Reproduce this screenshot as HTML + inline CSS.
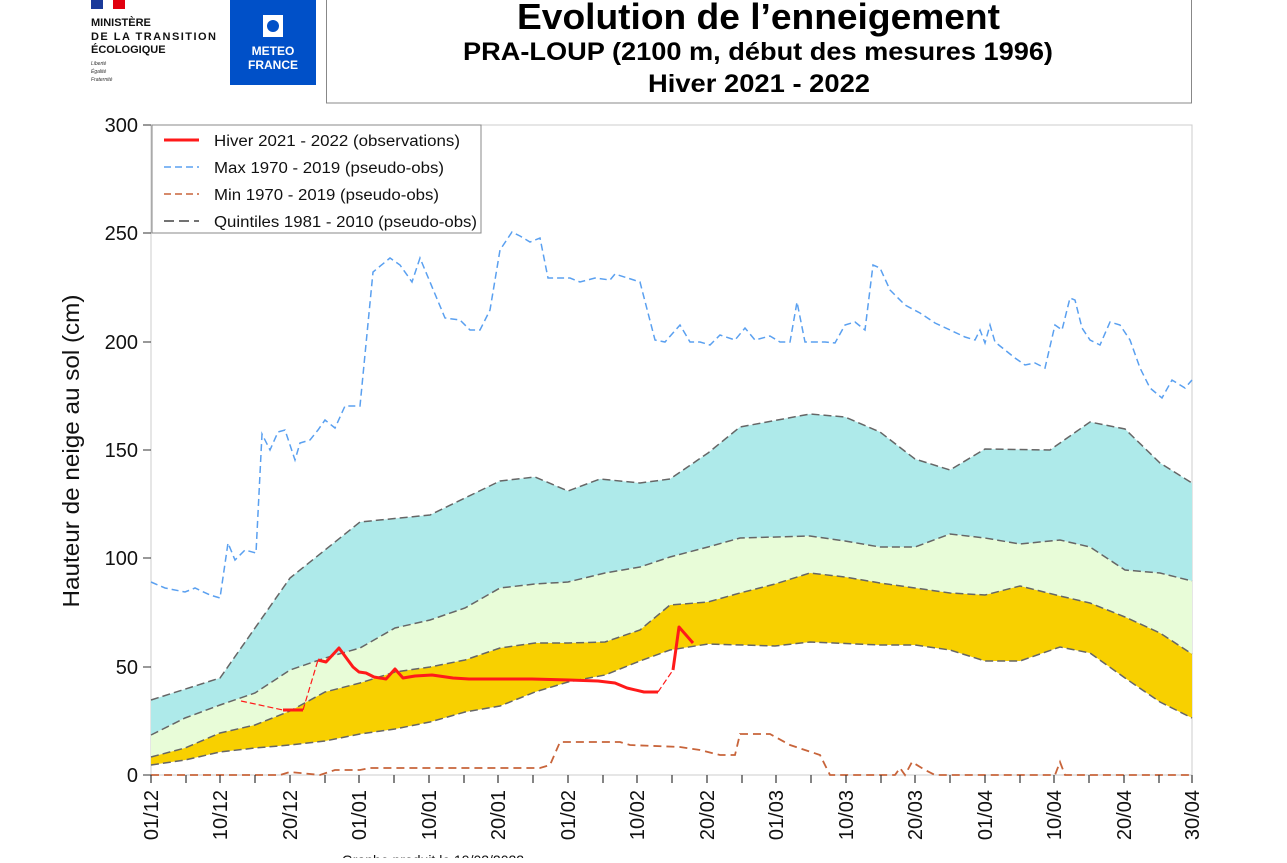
<!DOCTYPE html>
<html><head><meta charset="utf-8"><style>
body{margin:0;background:#fff;width:1287px;height:858px;overflow:hidden;font-family:"Liberation Sans",sans-serif}
</style></head><body>
<svg width="1287" height="858" viewBox="0 0 1287 858" xmlns="http://www.w3.org/2000/svg" font-family="Liberation Sans, sans-serif">
<rect x="91" y="0" width="12" height="9" fill="#1a3a9a"/><rect x="103" y="0" width="10" height="9" fill="#fff"/><rect x="113" y="0" width="12" height="9" fill="#e1000f"/>
<text x="91" y="26" font-size="11" font-weight="bold" fill="#111">MINISTÈRE</text>
<text x="91" y="40" font-size="11" font-weight="bold" fill="#111" textLength="125">DE LA TRANSITION</text>
<text x="91" y="53" font-size="11" font-weight="bold" fill="#111">ÉCOLOGIQUE</text>
<text x="91" y="65" font-size="5" font-style="italic" fill="#333">Liberté</text>
<text x="91" y="73" font-size="5" font-style="italic" fill="#333">Égalité</text>
<text x="91" y="81" font-size="5" font-style="italic" fill="#333">Fraternité</text>
<rect x="230" y="0" width="86" height="85" fill="#0050c8"/>
<rect x="263" y="15" width="20" height="22" fill="#fff"/><circle cx="273" cy="26" r="6" fill="#0050c8"/>
<text x="273" y="55" font-size="12" font-weight="bold" fill="#fff" text-anchor="middle">METEO</text>
<text x="273" y="69" font-size="12" font-weight="bold" fill="#fff" text-anchor="middle">FRANCE</text>
<rect x="326.5" y="-2" width="865" height="105" fill="#fff" stroke="#888" stroke-width="1"/>
<text x="517" y="29" font-size="36" font-weight="bold" fill="#000" textLength="483" lengthAdjust="spacingAndGlyphs">Evolution de l’enneigement</text>
<text x="463" y="60" font-size="25" font-weight="bold" fill="#000" textLength="590" lengthAdjust="spacingAndGlyphs">PRA-LOUP (2100 m, début des mesures 1996)</text>
<text x="648" y="92" font-size="25" font-weight="bold" fill="#000" textLength="222" lengthAdjust="spacingAndGlyphs">Hiver 2021 - 2022</text>
<rect x="151" y="125" width="1041" height="650" fill="#fff" stroke="#ccc" stroke-width="1"/>
<polygon fill="#aeeaea" points="151,700 220,678 290,578 360,522 430,515 500,481 535,477 568,491 600,479 640,483 670,479 708,453 740,427 810,414 845,417 880,432 915,459 950,470 985,449 1050,450 1090,422 1125,429 1160,463 1192,483 1192,581 1160,573 1125,570 1090,547 1060,540 1020,544 985,538 950,534 915,547 880,547 845,541 810,536 740,538 708,547 670,557 640,567 605,573 568,582 535,584 500,588 465,608 430,620 395,628 360,648 325,658 290,670 255,693 220,705 185,718 151,735"/>
<polygon fill="#e8fcd8" points="151,735 185,718 220,705 255,693 290,670 325,658 360,648 395,628 430,620 465,608 500,588 535,584 568,582 605,573 640,567 670,557 708,547 740,538 810,536 845,541 880,547 915,547 950,534 985,538 1020,544 1060,540 1090,547 1125,570 1160,573 1192,581 1192,654 1160,633 1125,617 1090,603 1060,596 1020,586 985,595 950,593 915,588 880,583 845,577 810,573 775,584 740,593 708,602 670,605 640,630 605,642 568,643 535,643 500,648 465,660 430,667 395,672 360,683 325,692 290,711 255,725 220,733 185,748 151,757"/>
<polygon fill="#f8d000" points="151,757 185,748 220,733 255,725 290,711 325,692 360,683 395,672 430,667 465,660 500,648 535,643 568,643 605,642 640,630 670,605 708,602 740,593 775,584 810,573 845,577 880,583 915,588 950,593 985,595 1020,586 1060,596 1090,603 1125,617 1160,633 1192,654 1192,718 1160,702 1125,678 1090,653 1060,647 1020,661 985,661 950,650 915,645 880,645 810,642 775,646 708,644 670,650 640,661 605,675 568,682 535,692 500,706 465,712 430,722 395,729 360,734 325,741 290,745 255,748 220,752 185,760 151,765"/>
<g fill="none" stroke="#666" stroke-width="1.5" stroke-dasharray="8,4">
<polyline points="151,700 220,678 290,578 360,522 430,515 500,481 535,477 568,491 600,479 640,483 670,479 708,453 740,427 810,414 845,417 880,432 915,459 950,470 985,449 1050,450 1090,422 1125,429 1160,463 1192,483"/>
<polyline points="151,735 185,718 220,705 255,693 290,670 325,658 360,648 395,628 430,620 465,608 500,588 535,584 568,582 605,573 640,567 670,557 708,547 740,538 810,536 845,541 880,547 915,547 950,534 985,538 1020,544 1060,540 1090,547 1125,570 1160,573 1192,581"/>
<polyline points="151,757 185,748 220,733 255,725 290,711 325,692 360,683 395,672 430,667 465,660 500,648 535,643 568,643 605,642 640,630 670,605 708,602 740,593 775,584 810,573 845,577 880,583 915,588 950,593 985,595 1020,586 1060,596 1090,603 1125,617 1160,633 1192,654"/>
<polyline points="151,765 185,760 220,752 255,748 290,745 325,741 360,734 395,729 430,722 465,712 500,706 535,692 568,682 605,675 640,661 670,650 708,644 775,646 810,642 880,645 915,645 950,650 985,661 1020,661 1060,647 1090,653 1125,678 1160,702 1192,718"/>
</g>
<polyline fill="none" stroke="#5aa0f0" stroke-width="1.5" stroke-dasharray="7,4" points="151,582 165,588 185,592 195,588 210,595 220,598 228,543 235,560 245,550 256,553 262,434 270,450 278,432 285,430 295,460 300,443 310,440 318,430 325,420 335,428 345,406 360,406 373,272 390,258 400,265 412,282 420,258 430,282 445,318 460,320 470,330 480,330 490,310 500,250 512,232 520,236 530,242 540,238 548,278 570,278 580,282 595,278 610,280 615,274 640,282 655,340 665,342 680,325 690,342 700,342 710,345 720,335 735,340 745,328 755,340 770,336 780,342 790,342 797,302 805,342 825,342 835,343 845,325 855,322 865,330 873,265 880,268 890,290 905,305 920,313 935,323 950,330 965,337 975,340 980,330 985,343 990,325 995,342 1005,350 1015,358 1025,365 1035,363 1045,368 1055,325 1062,330 1070,298 1075,300 1082,328 1090,340 1100,345 1110,322 1120,325 1130,340 1140,368 1150,388 1162,398 1172,380 1185,388 1192,380"/>
<polyline fill="none" stroke="#c8643a" stroke-width="1.8" stroke-dasharray="8,5" points="151,775 280,775 290,772 320,775 335,770 360,770 370,768 540,768 550,765 560,742 620,742 630,745 680,747 700,750 720,755 735,755 740,734 770,734 790,745 820,755 830,775 895,775 900,768 905,775 912,762 925,770 935,775 1055,775 1060,762 1065,775 1192,775"/>
<g fill="none" stroke="#ff1a1a" stroke-linejoin="round">
<polyline stroke-width="1.2" stroke-dasharray="6,3" points="241,701 283,710"/>
<polyline stroke-width="3" points="283,710 303,710"/>
<polyline stroke-width="1.2" stroke-dasharray="6,3" points="303,710 318,660"/>
<polyline stroke-width="3" points="318,660 326,662 339,648 353,667 359,672 366,673 374,677 386,679 395,669 403,678 415,676 432,675 453,678 469,679 532,679 569,680 598,681 615,683 627,688 644,692 658,692"/>
<polyline stroke-width="1.2" stroke-dasharray="6,3" points="658,692 673,670"/>
<polyline stroke-width="3" points="673,670 679,627 693,643"/>
</g>
<g stroke="#333" stroke-width="1"><line x1="143" y1="125" x2="151" y2="125"/><line x1="143" y1="233" x2="151" y2="233"/><line x1="143" y1="342" x2="151" y2="342"/><line x1="143" y1="450" x2="151" y2="450"/><line x1="143" y1="558" x2="151" y2="558"/><line x1="143" y1="667" x2="151" y2="667"/><line x1="143" y1="775" x2="151" y2="775"/></g>
<g font-size="20" fill="#111" text-anchor="end"><text x="138" y="132">300</text><text x="138" y="240">250</text><text x="138" y="349">200</text><text x="138" y="457">150</text><text x="138" y="565">100</text><text x="138" y="674">50</text><text x="138" y="782">0</text></g>
<text transform="translate(79,451) rotate(-90)" font-size="23" fill="#111" text-anchor="middle" textLength="313" lengthAdjust="spacingAndGlyphs">Hauteur de neige au sol (cm)</text>
<g stroke="#333" stroke-width="1.2">
<line x1="151" y1="775" x2="151" y2="783"/><line x1="186" y1="775" x2="186" y2="783"/><line x1="220" y1="775" x2="220" y2="783"/><line x1="255" y1="775" x2="255" y2="783"/><line x1="290" y1="775" x2="290" y2="783"/><line x1="325" y1="775" x2="325" y2="783"/><line x1="359" y1="775" x2="359" y2="783"/><line x1="394" y1="775" x2="394" y2="783"/><line x1="429" y1="775" x2="429" y2="783"/><line x1="464" y1="775" x2="464" y2="783"/><line x1="498" y1="775" x2="498" y2="783"/><line x1="533" y1="775" x2="533" y2="783"/><line x1="568" y1="775" x2="568" y2="783"/><line x1="603" y1="775" x2="603" y2="783"/><line x1="637" y1="775" x2="637" y2="783"/><line x1="672" y1="775" x2="672" y2="783"/><line x1="707" y1="775" x2="707" y2="783"/><line x1="742" y1="775" x2="742" y2="783"/><line x1="776" y1="775" x2="776" y2="783"/><line x1="811" y1="775" x2="811" y2="783"/><line x1="846" y1="775" x2="846" y2="783"/><line x1="881" y1="775" x2="881" y2="783"/><line x1="915" y1="775" x2="915" y2="783"/><line x1="950" y1="775" x2="950" y2="783"/><line x1="985" y1="775" x2="985" y2="783"/><line x1="1020" y1="775" x2="1020" y2="783"/><line x1="1054" y1="775" x2="1054" y2="783"/><line x1="1089" y1="775" x2="1089" y2="783"/><line x1="1124" y1="775" x2="1124" y2="783"/><line x1="1159" y1="775" x2="1159" y2="783"/><line x1="1192" y1="775" x2="1192" y2="783"/>
</g>
<g font-size="20" fill="#111" text-anchor="end">
<text transform="translate(158,790) rotate(-90)">01/12</text>
<text transform="translate(227,790) rotate(-90)">10/12</text>
<text transform="translate(297,790) rotate(-90)">20/12</text>
<text transform="translate(366,790) rotate(-90)">01/01</text>
<text transform="translate(436,790) rotate(-90)">10/01</text>
<text transform="translate(505,790) rotate(-90)">20/01</text>
<text transform="translate(575,790) rotate(-90)">01/02</text>
<text transform="translate(644,790) rotate(-90)">10/02</text>
<text transform="translate(714,790) rotate(-90)">20/02</text>
<text transform="translate(783,790) rotate(-90)">01/03</text>
<text transform="translate(853,790) rotate(-90)">10/03</text>
<text transform="translate(922,790) rotate(-90)">20/03</text>
<text transform="translate(992,790) rotate(-90)">01/04</text>
<text transform="translate(1061,790) rotate(-90)">10/04</text>
<text transform="translate(1131,790) rotate(-90)">20/04</text>
<text transform="translate(1199,790) rotate(-90)">30/04</text>
</g>
<text x="433" y="865" font-size="14" fill="#111" text-anchor="middle">Graphe produit le 19/02/2022</text>
<rect x="152" y="125" width="329" height="108" fill="#fff" stroke="#888" stroke-width="1"/>
<line x1="164" y1="140" x2="199" y2="140" stroke="#ff1a1a" stroke-width="3"/>
<line x1="164" y1="167" x2="199" y2="167" stroke="#5aa0f0" stroke-width="1.5" stroke-dasharray="7,4"/>
<line x1="164" y1="194" x2="199" y2="194" stroke="#c8643a" stroke-width="1.5" stroke-dasharray="7,4"/>
<line x1="164" y1="221" x2="199" y2="221" stroke="#444" stroke-width="1.5" stroke-dasharray="10,5"/>
<g font-size="15.5" fill="#111"><text x="214" y="146" textLength="246" lengthAdjust="spacingAndGlyphs">Hiver 2021 - 2022 (observations)</text><text x="214" y="173" textLength="230" lengthAdjust="spacingAndGlyphs">Max 1970 - 2019 (pseudo-obs)</text><text x="214" y="200" textLength="225" lengthAdjust="spacingAndGlyphs">Min 1970 - 2019 (pseudo-obs)</text><text x="214" y="227" textLength="263" lengthAdjust="spacingAndGlyphs">Quintiles 1981 - 2010 (pseudo-obs)</text></g>
</svg>
</body></html>
